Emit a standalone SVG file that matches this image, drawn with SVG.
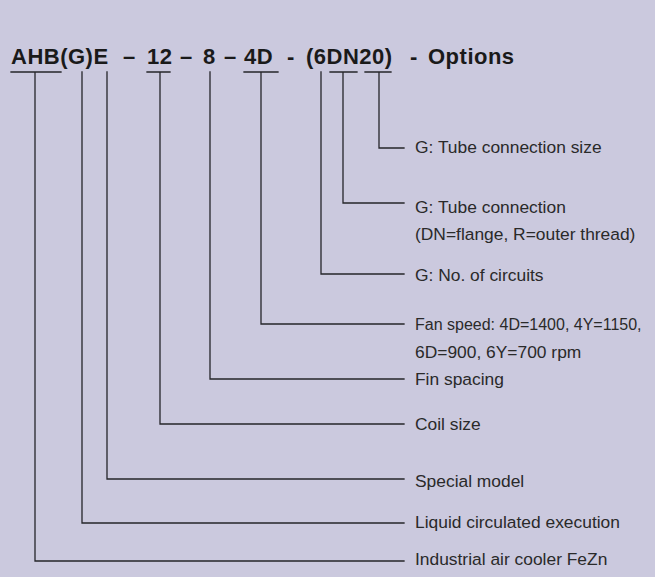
<svg xmlns="http://www.w3.org/2000/svg" width="655" height="577" viewBox="0 0 655 577">
<style>
.bg{fill:#cbc9de}
.title{font-family:"Liberation Sans",Arial,sans-serif;font-weight:bold;font-size:22px;fill:#1a1a1a;letter-spacing:0.5px}
.lbl{font-family:"Liberation Sans",Arial,sans-serif;font-size:17.4px;fill:#2a2a2a}
.fan{font-size:16px}
.ln{fill:none;stroke:#26262a;stroke-width:1.3;stroke-linecap:square}
</style>
<rect class="bg" x="0" y="0" width="655" height="577"/>
<g id="title">
<text class="title" y="64"><tspan x="11">AHB(G)E</tspan><tspan x="123">–</tspan><tspan x="147">12</tspan><tspan x="180">–</tspan><tspan x="203">8</tspan><tspan x="224">–</tspan><tspan x="244">4D</tspan><tspan x="287">-</tspan><tspan x="306">(6DN20)</tspan><tspan x="410">-</tspan><tspan x="428">Options</tspan></text>
</g>
<g id="connectors">
<path class="ln" d="M11,72H61M35,72V561H404"/>
<path class="ln" d="M82,72V523H404"/>
<path class="ln" d="M107,72V479H404"/>
<path class="ln" d="M147,72H170M160,72V424H404"/>
<path class="ln" d="M210,72V379H404"/>
<path class="ln" d="M244,72H278M261,72V324H404"/>
<path class="ln" d="M321,72V274H404"/>
<path class="ln" d="M330,72H357M343,72V203H404"/>
<path class="ln" d="M365,72H391M379,72V148H404"/>
</g>
<g id="label-size"><text class="lbl" x="415" y="153">G: Tube connection size</text></g>
<g id="label-connection"><text class="lbl" x="415" y="213">G: Tube connection</text><text class="lbl" x="415" y="240">(DN=flange, R=outer thread)</text></g>
<g id="label-circuits"><text class="lbl" x="415" y="281">G: No. of circuits</text></g>
<g id="label-fan"><text class="lbl fan" x="415" y="330">Fan speed: 4D=1400, 4Y=1150,</text><text class="lbl" x="415" y="358">6D=900, 6Y=700 rpm</text></g>
<g id="label-fin"><text class="lbl" x="415" y="385">Fin spacing</text></g>
<g id="label-coil"><text class="lbl" x="415" y="430">Coil size</text></g>
<g id="label-special"><text class="lbl" x="415" y="487">Special model</text></g>
<g id="label-liquid"><text class="lbl" x="415" y="528">Liquid circulated execution</text></g>
<g id="label-industrial"><text class="lbl" x="415" y="565">Industrial air cooler FeZn</text></g>
</svg>
